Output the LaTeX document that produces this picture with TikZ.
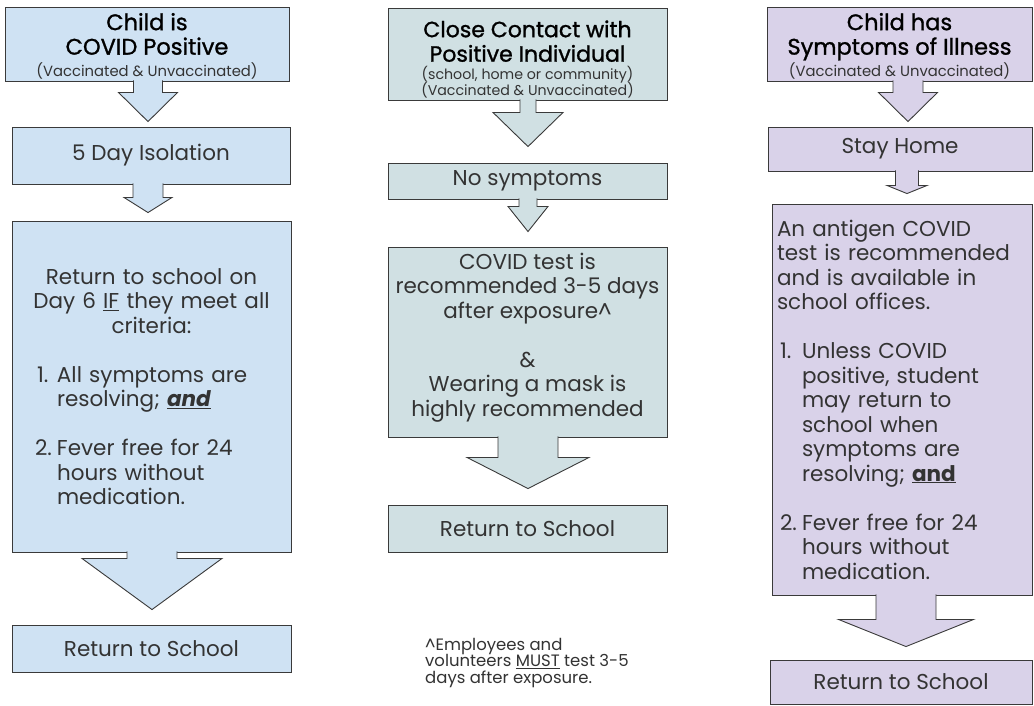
\documentclass[tikz,border=0pt]{standalone}
\usepackage{fontspec}
\setmainfont{Poppins}
\newfontfamily\titlefont{Poppins}[FakeBold=1.2]
\usetikzlibrary{calc}
\definecolor{cblue}{HTML}{CFE2F3}
\definecolor{cteal}{HTML}{D0E0E3}
\definecolor{cpurp}{HTML}{D9D2E9}
\definecolor{edge}{HTML}{3A3A3A}
\definecolor{ink}{HTML}{333333}
\newcommand\subfont{\fontsize{14.8}{16}\selectfont}
\newcommand\subfontb{\fontsize{14.2}{16}\selectfont}
\newcommand\ttlfont{\fontsize{22.5}{24.5}\selectfont\titlefont}
\newcommand\ttlfontb{\fontsize{22}{24.5}\selectfont\titlefont}
\newcommand\blockarrow[8]{%
  \coordinate (ax) at (#3,0);
  \coordinate (at) at (#1.south -| ax);
  \coordinate (ae) at (#2.north -| ax);
  \filldraw[barrow, fill=#8] ($(at)+(-#4,-1)$) -- ($(at)+(-#4,#6)$) -- ($(at)+(-#5,#6)$)
     -- ($(ae)+(0,-#7)$) -- ($(at)+(#5,#6)$) -- ($(at)+(#4,#6)$) -- ($(at)+(#4,-1)$);
}
\begin{document}
\begin{tikzpicture}[x=1pt,y=-1pt,
  box/.style={draw=edge, line width=0.9pt, rectangle, inner sep=0pt, text=ink,
    font=\fontsize{21.5}{24.5}\selectfont},
  barrow/.style={draw=edge, line width=0.9pt, line join=miter},
  ttl/.style={text=black}]
\fill[white] (0,0) rectangle (1034,705);
\useasboundingbox (0,0) rectangle (1034,705);

% ---------- column 1 ----------
\node[box, ttl, fill=cblue, minimum width=284pt, minimum height=74pt, align=center] (c1a) at (147,44)
  {\ttlfont\rule{0pt}{21pt}Child is\\\ttlfont COVID Positive\\[-3pt]\subfont\color{ink}(Vaccinated \& Unvaccinated)};
\node[box, fill=cblue, minimum width=278pt, minimum height=57pt] (c1b) at (151,155.5) {5 Day Isolation};
\node[box, fill=cblue, minimum width=279pt, minimum height=331pt, text width=263pt, align=left] (c1c) at (151.5,386.5)
  {\makebox[\linewidth]{Return to school on}\\
   \makebox[\linewidth]{Day 6 \underline{IF} they meet all}\\
   \makebox[\linewidth]{criteria:}\\[24.5pt]
   \hspace*{17pt}\makebox[20pt][l]{1.}All symptoms are\\
   \hspace*{37pt}resolving; \textbf{\textit{\underline{and}}}\\[24.5pt]
   \hspace*{15pt}\makebox[22pt][l]{2.}Fever free for 24\\
   \hspace*{37pt}hours without\\
   \hspace*{37pt}medication.};
\node[box, fill=cblue, minimum width=279pt, minimum height=47pt] (c1d) at (151.5,648.5) {Return to School};

\blockarrow{c1a}{c1b}{148}{14.5}{29.5}{11}{5}{cblue}
\blockarrow{c1b}{c1c}{148}{15}{24}{13}{8}{cblue}
\blockarrow{c1c}{c1d}{152}{25}{70}{6}{15}{cblue}

% ---------- column 2 ----------
\node[box, ttl, fill=cteal, minimum width=279pt, minimum height=92pt, align=center] (c2a) at (527.5,54)
  {\ttlfontb\rule{0pt}{27pt}Close Contact with\\\ttlfontb Positive Individual\\[-7pt]\subfontb\color{ink}(school, home or community)\\[-8.5pt]\subfontb\color{ink}(Vaccinated \& Unvaccinated)};
\node[box, fill=cteal, minimum width=279pt, minimum height=36pt] (c2b) at (527.5,181) {No symptoms};
\node[box, fill=cteal, minimum width=279pt, minimum height=190pt, align=center] (c2c) at (527.5,342)
  {COVID test is\\recommended 3-5 days\\after exposure\textasciicircum\\[24.5pt]\&\\Wearing a mask is\\highly recommended\rule[-15pt]{0pt}{1pt}};
\node[box, fill=cteal, minimum width=279pt, minimum height=47pt] (c2d) at (527.5,528.5) {Return to School};

\blockarrow{c2a}{c2b}{528}{8}{35}{12}{16}{cteal}
\blockarrow{c2b}{c2c}{528}{9}{20}{7}{15}{cteal}
\blockarrow{c2c}{c2d}{528}{30}{61}{20}{16}{cteal}

\node[anchor=north west, align=left, inner sep=0pt, text=ink, font=\fontsize{16.5}{16.5}\selectfont] (fn) at (425,638)
  {\textasciicircum Employees and\\volunteers \underline{MUST} test 3-5\\days after exposure.};

% ---------- column 3 ----------
\node[box, ttl, fill=cpurp, minimum width=265pt, minimum height=74pt, align=center] (c3a) at (899.5,44)
  {\ttlfont\rule{0pt}{21pt}Child has\\\ttlfont Symptoms of Illness\\[-3pt]\subfont\color{ink}(Vaccinated \& Unvaccinated)};
\node[box, fill=cpurp, minimum width=264pt, minimum height=44pt] (c3b) at (900,149) {Stay Home};
\node[box, fill=cpurp, minimum width=260pt, minimum height=391pt, text width=250pt, align=left] (c3c) at (902,399.5)
  {\mbox{An antigen COVID}\\
   \mbox{test is recommended}\\
   \mbox{and is available in}\\
   \mbox{school offices.}\\[24.5pt]
   \hspace*{3pt}\makebox[22pt][l]{1.}Unless COVID\\
   \hspace*{25pt}positive, student\\
   \hspace*{25pt}may return to\\
   \hspace*{25pt}school when\\
   \hspace*{25pt}symptoms are\\
   \hspace*{25pt}resolving; \textbf{\underline{and}}\\[24.5pt]
   \hspace*{3pt}\makebox[22pt][l]{2.}Fever free for 24\\
   \hspace*{25pt}hours without\\
   \hspace*{25pt}medication.};
\node[box, fill=cpurp, minimum width=262pt, minimum height=44pt] (c3d) at (901,682) {Return to School};

\blockarrow{c3a}{c3b}{908}{15}{29.5}{11}{5}{cpurp}
\blockarrow{c3b}{c3c}{907}{11.5}{20}{14}{10}{cpurp}
\blockarrow{c3c}{c3d}{906}{30}{67.5}{24}{13}{cpurp}
\end{tikzpicture}
\end{document}
